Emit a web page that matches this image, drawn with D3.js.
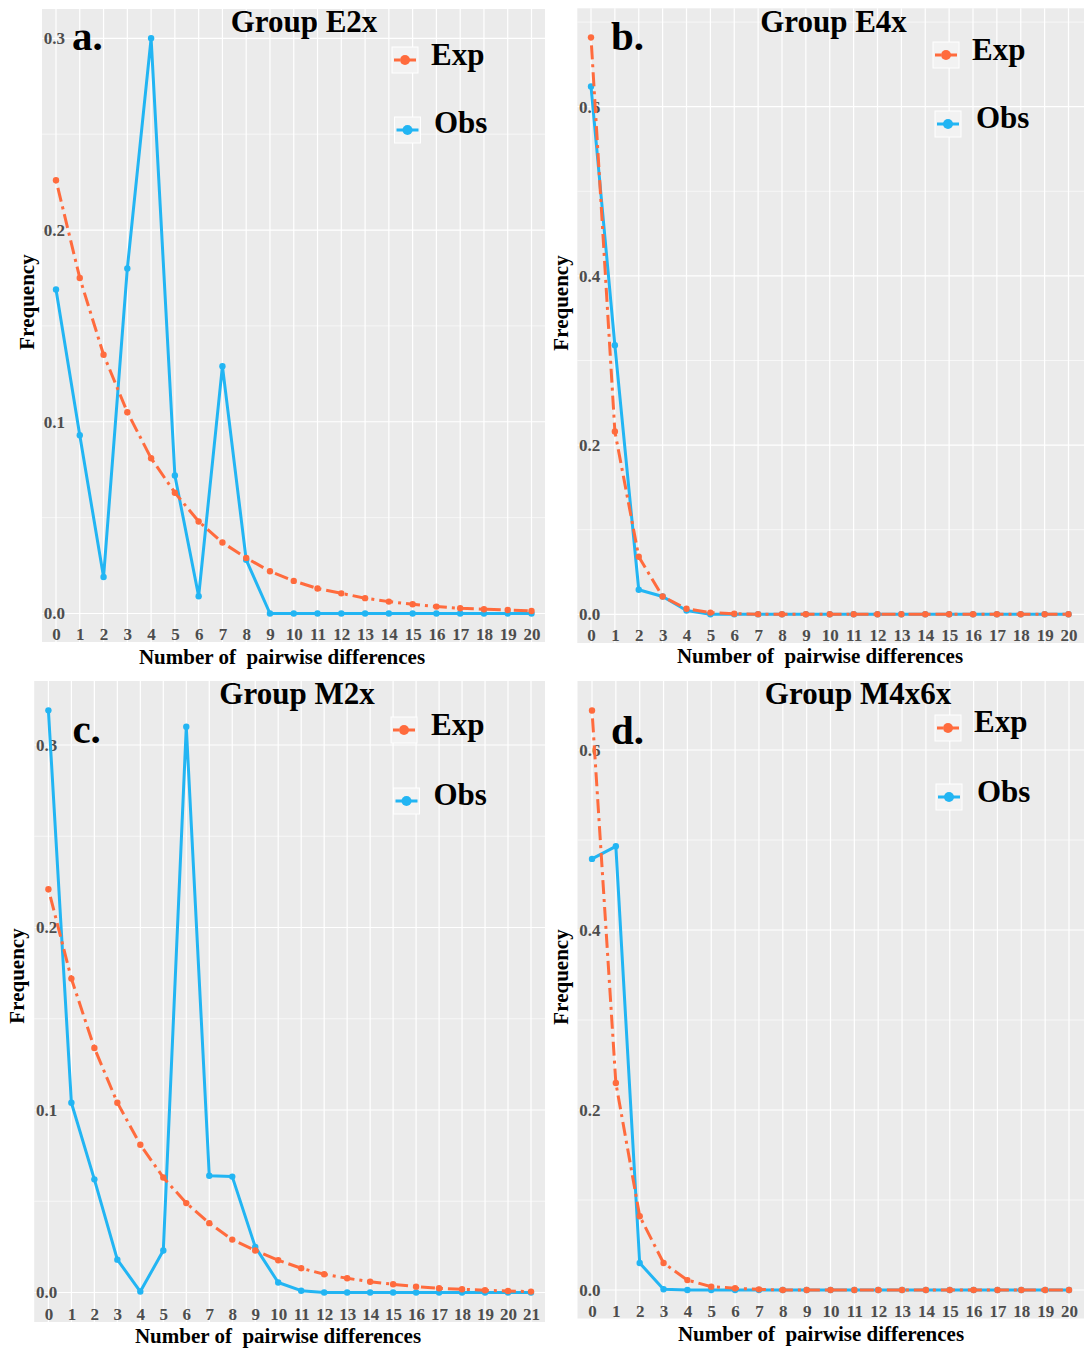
<!DOCTYPE html>
<html>
<head>
<meta charset="utf-8">
<script src="https://cdn.jsdelivr.net/npm/d3@7/dist/d3.min.js"></script>
<style>
  body { margin: 0; background: #ffffff; }
  svg { display: block; }
</style>
</head>
<body>
<script>
// ---- data ----
var diffs20 = [0, 1, 2, 3, 4, 5, 6, 7, 8, 9, 10, 11, 12, 13, 14, 15, 16, 17, 18, 19, 20];
var diffs21 = [0, 1, 2, 3, 4, 5, 6, 7, 8, 9, 10, 11, 12, 13, 14, 15, 16, 17, 18, 19, 20, 21];

// Group E2x
var obsE2x = [0.169, 0.093, 0.019, 0.180, 0.300, 0.072, 0.009, 0.129, 0.028, 0, 0, 0, 0, 0, 0, 0, 0, 0, 0, 0, 0];
var expE2x = [0.226, 0.175, 0.135, 0.105, 0.081, 0.063, 0.048, 0.037, 0.029, 0.022, 0.017, 0.013, 0.0105,
              0.008, 0.0062, 0.0048, 0.0036, 0.0027, 0.0022, 0.0018, 0.0013];

// Group E4x
var obsE4x = [0.624, 0.318, 0.029, 0.021, 0.0045, 0, 0, 0, 0, 0, 0, 0, 0, 0, 0, 0, 0, 0, 0, 0, 0];
var expE4x = [0.682, 0.216, 0.068, 0.021, 0.0065, 0.002, 0.0007, 0.0002, 0, 0, 0, 0, 0, 0, 0, 0, 0, 0, 0, 0, 0];

// Group M2x
var obsM2x = [0.319, 0.104, 0.062, 0.018, 0.0005, 0.023, 0.310, 0.064, 0.0635, 0.025, 0.0055, 0.001,
              0, 0, 0, 0, 0, 0, 0, 0, 0, 0];
var expM2x = [0.221, 0.172, 0.134, 0.104, 0.081, 0.063, 0.049, 0.038, 0.029, 0.023, 0.0177, 0.0133, 0.010,
              0.0078, 0.0059, 0.0045, 0.0032, 0.0023, 0.0018, 0.0012, 0.0008, 0.0005];

// Group M4x6x
var obsM4x6x = [0.479, 0.493, 0.030, 0.0008, 0, 0, 0, 0, 0, 0, 0, 0, 0, 0, 0, 0, 0, 0, 0, 0, 0];
var expM4x6x = [0.644, 0.230, 0.082, 0.030, 0.011, 0.0037, 0.0019, 0.0007, 0, 0, 0, 0, 0, 0, 0, 0, 0, 0, 0, 0, 0];

var yTicksSmall = [0, 0.1, 0.2, 0.3];
var yTicksLarge = [0, 0.2, 0.4, 0.6];
var titles = ["Group E2x", "Group E4x", "Group M2x", "Group M4x6x"];
var letters = ["a.", "b.", "c.", "d."];
var seriesNames = ["Exp", "Obs"];
var xTitle = "Number of \u00a0pairwise differences";
var yTitle = "Frequency";

// ---- layout (pixel positions of each panel) ----
var panels = [
  { left: 42, top: 9, right: 545, bottom: 642, x0: 56, x1: 531.5, y0: 613.5, yTop: 38.3,
    title: [304, 32], letter: [72, 50], keys: [[392, 47, 431, 65], [394.5, 117, 434, 133]],
    xTick: 640, xLab: [282, 664], yLab: [27, 302],
    xs: diffs20, obs: obsE2x, exp: expE2x, ticks: yTicksSmall },
  { left: 577.3, top: 8.3, right: 1084, bottom: 643, x0: 591, x1: 1068.5, y0: 614.3, yTop: 106.7,
    title: [833.5, 32], letter: [611, 50], keys: [[933, 42, 972, 60], [935, 111, 976, 128]],
    xTick: 640.5, xLab: [820, 663], yLab: [561, 303],
    xs: diffs20, obs: obsE4x, exp: expE4x, ticks: yTicksLarge },
  { left: 34.2, top: 681, right: 545, bottom: 1322, x0: 48.4, x1: 531, y0: 1292.5, yTop: 745,
    title: [297, 704], letter: [72.4, 743], keys: [[391, 717, 431, 735], [393.5, 788, 433.5, 805]],
    xTick: 1319.5, xLab: [278, 1342.5], yLab: [17, 976],
    xs: diffs21, obs: obsM2x, exp: expM2x, ticks: yTicksSmall },
  { left: 577.5, top: 681, right: 1084, bottom: 1318.5, x0: 592, x1: 1069, y0: 1290, yTop: 750,
    title: [858, 704], letter: [611, 744], keys: [[935, 715, 974, 732], [936, 784, 977, 802]],
    xTick: 1316.5, xLab: [821, 1341], yLab: [561, 977],
    xs: diffs20, obs: obsM4x6x, exp: expM4x6x, ticks: yTicksLarge }
];

var expColor = "#ff6b3d";
var obsColor = "#22b5f3";
var serif = "'Liberation Serif', 'Times New Roman', serif";

var svg = d3.select("body").append("svg")
    .attr("width", 1089)
    .attr("height", 1349);

panels.forEach(function(p, k) {
    var g = svg.append("g");
    var xs = p.xs;

    var xScale = d3.scaleLinear()
        .domain([xs[0], xs[xs.length - 1]])
        .range([p.x0, p.x1]);
    var yScale = d3.scaleLinear()
        .domain([0, p.ticks[p.ticks.length - 1]])
        .range([p.y0, p.yTop]);

    // panel background
    g.append("rect")
        .attr("x", p.left).attr("y", p.top)
        .attr("width", p.right - p.left).attr("height", p.bottom - p.top)
        .attr("fill", "#ebebeb");

    // minor horizontal grid (half steps)
    var step = p.ticks[1] - p.ticks[0];
    var minor = d3.range(step / 2, yScale.invert(p.top), step);
    g.selectAll(".minor").data(minor).enter().append("line")
        .attr("x1", p.left).attr("x2", p.right)
        .attr("y1", function(d) { return yScale(d); })
        .attr("y2", function(d) { return yScale(d); })
        .attr("stroke", "#ffffff").attr("stroke-width", 0.6);

    // major grid
    g.selectAll(".hmajor").data(p.ticks).enter().append("line")
        .attr("x1", p.left).attr("x2", p.right)
        .attr("y1", function(d) { return yScale(d); })
        .attr("y2", function(d) { return yScale(d); })
        .attr("stroke", "#ffffff").attr("stroke-width", 1.2);
    g.selectAll(".vmajor").data(xs).enter().append("line")
        .attr("x1", function(d) { return xScale(d); })
        .attr("x2", function(d) { return xScale(d); })
        .attr("y1", p.top).attr("y2", p.bottom)
        .attr("stroke", "#ffffff").attr("stroke-width", 1.2);

    // axes (labels sit inside the grey area)
    var xAxis = d3.axisBottom(xScale).tickValues(xs).tickSize(0).tickFormat(d3.format("d"));
    var xg = g.append("g").attr("transform", "translate(0," + p.xTick + ")").call(xAxis);
    xg.select(".domain").remove();
    xg.selectAll("text").attr("y", 0).attr("dy", 0);

    var yAxis = d3.axisLeft(yScale).tickValues(p.ticks).tickSize(0).tickFormat(d3.format(".1f"));
    var yg = g.append("g").attr("transform", "translate(" + (p.left + 23) + ",0)").call(yAxis);
    yg.select(".domain").remove();
    yg.selectAll("text").attr("x", 0);

    [xg, yg].forEach(function(a) {
        a.selectAll("text")
            .style("font-family", serif)
            .style("font-weight", "bold")
            .style("font-size", "17px")
            .attr("fill", "#4d4d4d");
    });

    // lines and points
    var line = function(vals) {
        return d3.line()
            .x(function(d, i) { return xScale(xs[i]); })
            .y(function(d) { return yScale(d); })(vals);
    };

    g.append("path").attr("d", line(p.obs))
        .attr("fill", "none").attr("stroke", obsColor).attr("stroke-width", 3)
        .attr("stroke-linejoin", "round");
    g.selectAll(".obsPt").data(p.obs).enter().append("circle")
        .attr("cx", function(d, i) { return xScale(xs[i]); })
        .attr("cy", function(d) { return yScale(d); })
        .attr("r", 3.2).attr("fill", obsColor);

    g.append("path").attr("d", line(p.exp))
        .attr("fill", "none").attr("stroke", expColor).attr("stroke-width", 3)
        .attr("stroke-dasharray", "3,5,14,5");
    g.selectAll(".expPt").data(p.exp).enter().append("circle")
        .attr("cx", function(d, i) { return xScale(xs[i]); })
        .attr("cy", function(d) { return yScale(d); })
        .attr("r", 3.2).attr("fill", expColor);

    // title and panel letter
    g.append("text")
        .attr("x", p.title[0]).attr("y", p.title[1])
        .attr("text-anchor", "middle")
        .style("font-family", serif).style("font-weight", "bold").style("font-size", "31px")
        .text(titles[k]);
    g.append("text")
        .attr("x", p.letter[0]).attr("y", p.letter[1])
        .style("font-family", serif).style("font-weight", "bold").style("font-size", "41px")
        .text(letters[k]);

    // legend
    var colors = [expColor, obsColor];
    p.keys.forEach(function(kk, j) {
        g.append("rect")
            .attr("x", kk[0]).attr("y", kk[1]).attr("width", 26).attr("height", 26)
            .attr("fill", "#f2f2f2").attr("stroke", "#ffffff").attr("stroke-width", 1);
        g.append("line")
            .attr("x1", kk[0] + 2).attr("x2", kk[0] + 24)
            .attr("y1", kk[1] + 13).attr("y2", kk[1] + 13)
            .attr("stroke", colors[j]).attr("stroke-width", 3)
            .attr("stroke-dasharray", j === 0 ? "6,3,13,3" : null);
        g.append("circle")
            .attr("cx", kk[0] + 13).attr("cy", kk[1] + 13).attr("r", 5)
            .attr("fill", colors[j]);
        g.append("text")
            .attr("x", kk[2]).attr("y", kk[3])
            .style("font-family", serif).style("font-weight", "bold").style("font-size", "31px")
            .text(seriesNames[j]);
    });

    // axis titles
    g.append("text")
        .attr("x", p.xLab[0]).attr("y", p.xLab[1])
        .attr("text-anchor", "middle")
        .style("font-family", serif).style("font-weight", "bold").style("font-size", "21px")
        .text(xTitle);
    g.append("text")
        .attr("transform", "translate(" + (p.yLab[0] + 7) + "," + p.yLab[1] + ") rotate(-90)")
        .attr("text-anchor", "middle")
        .style("font-family", serif).style("font-weight", "bold").style("font-size", "21px")
        .text(yTitle);
});
</script>
</body>
</html>
